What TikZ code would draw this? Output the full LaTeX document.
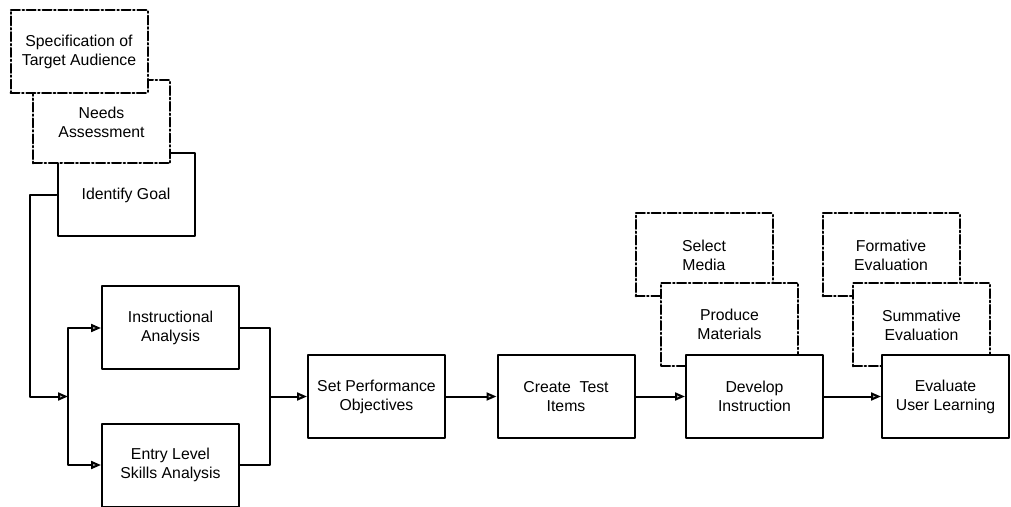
\documentclass[tikz,border=0pt]{standalone}
\usepackage{fontspec}
\setmainfont{Liberation Sans}
\usetikzlibrary{arrows.meta}

\begin{document}
\begin{tikzpicture}[line cap=round,line join=round,x=0.5pt,y=-0.5pt,
		>={Triangle[length=5pt,width=4pt,fill=gray!45]},
		box/.style={draw,line width=1pt,fill=white,align=center,
			minimum width=68.5pt,minimum height=41.5pt,inner sep=1pt,
			font=\fontsize{7.9}{9.5}\selectfont},
		dbox/.style={box,dash pattern=on 4.5pt off 1.3pt on 0.8pt off 1.3pt},
		link/.style={line width=1pt}]
		\useasboundingbox (0,0) rectangle (1011,507);
		% stacked boxes on the left: the upper one lies on top
		\node[box] (goal) at (126,195) {Identify Goal};
		\node[dbox] (needs) at (101.5,122) {Needs\\Assessment};
		\node[dbox] (spec) at (79,51.5) {Specification of\\Target Audience};
		% analysis pair
		\node[box] (instr) at (170.5,328) {Instructional\\Analysis};
		\node[box] (entry) at (170.5,465) {Entry Level\\Skills Analysis};
		% main chain
		\node[box] (perf) at (376.5,396.5) {Set Performance\\Objectives};
		\node[box] (test) at (566,396.5) {Create~ Test\\Items};
		\node[dbox] (select) at (704,255) {Select\\Media};
		\node[dbox] (produce) at (729.5,324.5) {Produce\\Materials};
		\node[box] (dev) at (754.5,396.5) {Develop\\Instruction};
		\node[dbox] (form) at (891,255) {Formative\\Evaluation};
		\node[dbox] (summ) at (921.5,325) {Summative\\Evaluation};
		\node[box,minimum width=63.5pt] (eval) at (945.5,396.5) {Evaluate\\User Learning};
		% connectors
		\coordinate (split) at (68,396.5);
		\coordinate (merge) at (270,396.5);
		\draw[link,->] (goal.west) -- ++(-27,0) |- (split);
		\draw[link,->] (split) |- (instr.west);
		\draw[link,->] (split) |- (entry.west);
		\draw[link] (instr.east) -| (merge) |- (entry.east);
		\draw[link,->] (merge) -- (perf.west);
		\draw[link,->] (perf) -- (test);
		\draw[link,->] (test) -- (dev);
		\draw[link,->] (dev) -- (eval);
	\end{tikzpicture}
\end{document}
